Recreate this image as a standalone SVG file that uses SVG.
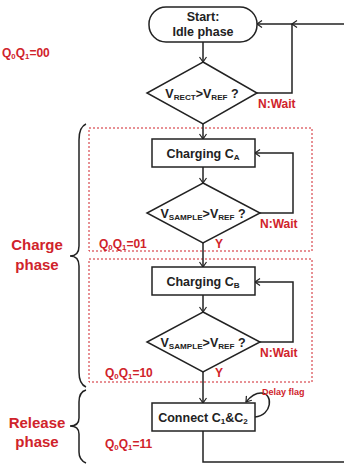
<svg xmlns="http://www.w3.org/2000/svg" width="344" height="466" viewBox="0 0 344 466">
<defs>
<marker id="arr" markerWidth="8" markerHeight="8" refX="6" refY="4" orient="auto" markerUnits="userSpaceOnUse">
<path d="M1,0.5 L6,4 L1,7.5" fill="none" stroke="#222" stroke-width="1.2"/>
</marker>
</defs>
<style>
.box{fill:#fff;stroke:#222;stroke-width:1.5}
.ln{fill:none;stroke:#222;stroke-width:1.5}
.t{font-family:"Liberation Sans",Arial,sans-serif;font-weight:bold;font-size:12.5px;fill:#222;text-anchor:middle}
.r{font-family:"Liberation Sans",Arial,sans-serif;font-weight:bold;font-size:12px;fill:#d0232b}
.big{font-family:"Liberation Sans",Arial,sans-serif;font-weight:bold;font-size:15px;fill:#d0232b;text-anchor:middle}
.sm{font-size:65%}
.dot{fill:none;stroke:#d0232b;stroke-width:1;stroke-dasharray:2,2}
.brace{fill:none;stroke:#222;stroke-width:1.5}
</style>
<rect class="dot" x="89" y="128" width="223" height="123"/>
<rect class="dot" x="89" y="259" width="223" height="123"/>
<g id="connectors">
<path class="ln" d="M203,42 V62" marker-end="url(#arr)"/>
<path class="ln" d="M203,124 V139" marker-end="url(#arr)"/>
<path class="ln" d="M257,93 H292 V24 H257" marker-end="url(#arr)"/>
<path class="ln" d="M344,24 H292" marker-end="url(#arr)"/>
<path class="ln" d="M203,167 V183" marker-end="url(#arr)"/>
<path class="ln" d="M260,213 H293 V153 H255" marker-end="url(#arr)"/>
<path class="ln" d="M203,243 V267" marker-end="url(#arr)"/>
<path class="ln" d="M203,295 V312" marker-end="url(#arr)"/>
<path class="ln" d="M260,342 H293 V282 H255" marker-end="url(#arr)"/>
<path class="ln" d="M203,372 V403" marker-end="url(#arr)"/>
<path class="ln" d="M255,417 C272,416 274,393 261,393 C255,393 250,397 246,402" marker-end="url(#arr)"/>
<path class="ln" d="M203,431 V462 H344"/>
</g>
<g id="start">
<rect class="box" x="149" y="7" width="108" height="35" rx="17" ry="17"/>
<text class="t" x="203" y="21">Start:</text>
<text class="t" x="203" y="36">Idle phase</text>
</g>
<g id="d1">
<polygon class="box" points="203,62 257,93 203,124 147,93"/>
<text class="t" x="202" y="97.5">V<tspan class="sm" dy="2">RECT</tspan><tspan dy="-2">&gt;V</tspan><tspan class="sm" dy="2">REF</tspan><tspan dy="-2"> ?</tspan></text>
</g>
<g id="chargeA">
<rect class="box" x="152" y="139" width="103" height="28"/>
<text class="t" x="203" y="157.5">Charging C<tspan class="sm" dy="2">A</tspan></text>
</g>
<g id="d2">
<polygon class="box" points="203,183 260,213 203,243 147,213"/>
<text class="t" x="203" y="217.5">V<tspan class="sm" dy="2">SAMPLE</tspan><tspan dy="-2">&gt;V</tspan><tspan class="sm" dy="2">REF</tspan><tspan dy="-2"> ?</tspan></text>
</g>
<g id="chargeB">
<rect class="box" x="152" y="267" width="103" height="28"/>
<text class="t" x="203" y="285.5">Charging C<tspan class="sm" dy="2">B</tspan></text>
</g>
<g id="d3">
<polygon class="box" points="203,312 260,342 203,372 147,342"/>
<text class="t" x="203" y="346.5">V<tspan class="sm" dy="2">SAMPLE</tspan><tspan dy="-2">&gt;V</tspan><tspan class="sm" dy="2">REF</tspan><tspan dy="-2"> ?</tspan></text>
</g>
<g id="connect">
<rect class="box" x="152" y="403" width="103" height="28"/>
<text class="t" x="203" y="421.5">Connect C<tspan class="sm" dy="2">1</tspan><tspan dy="-2">&amp;C</tspan><tspan class="sm" dy="2">2</tspan></text>
</g>
<g id="labels">
<text class="r" x="2" y="57">Q<tspan class="sm" dy="2">0</tspan><tspan dy="-2">Q</tspan><tspan class="sm" dy="2">1</tspan><tspan dy="-2">=00</tspan></text>
<text class="r" x="258" y="108">N:Wait</text>
<text class="r" x="260" y="228">N:Wait</text>
<text class="r" x="99" y="248">Q<tspan class="sm" dy="2">0</tspan><tspan dy="-2">Q</tspan><tspan class="sm" dy="2">1</tspan><tspan dy="-2">=01</tspan></text>
<text class="r" x="215" y="248">Y</text>
<text class="r" x="260" y="357">N:Wait</text>
<text class="r" x="105" y="377">Q<tspan class="sm" dy="2">0</tspan><tspan dy="-2">Q</tspan><tspan class="sm" dy="2">1</tspan><tspan dy="-2">=10</tspan></text>
<text class="r" x="215" y="377">Y</text>
<text class="r" x="105" y="448">Q<tspan class="sm" dy="2">0</tspan><tspan dy="-2">Q</tspan><tspan class="sm" dy="2">1</tspan><tspan dy="-2">=11</tspan></text>
<text class="r" x="262" y="395" style="font-size:9px">Delay flag</text>
<text class="big" x="37" y="250">Charge</text>
<text class="big" x="37" y="270">phase</text>
<text class="big" x="37" y="428">Release</text>
<text class="big" x="37" y="447">phase</text>
</g>
<g id="braces">
<path class="brace" d="M86,124 Q79,127 79,140 L79,246 Q79,256 70,256 Q79,256 79,266 L79,372 Q79,384 86,387"/>
<path class="brace" d="M86,390 Q79,392 79,402 L79,418 Q79,426 70,426 Q79,426 79,434 L79,452 Q79,460 86,463"/>
</g>
</svg>
